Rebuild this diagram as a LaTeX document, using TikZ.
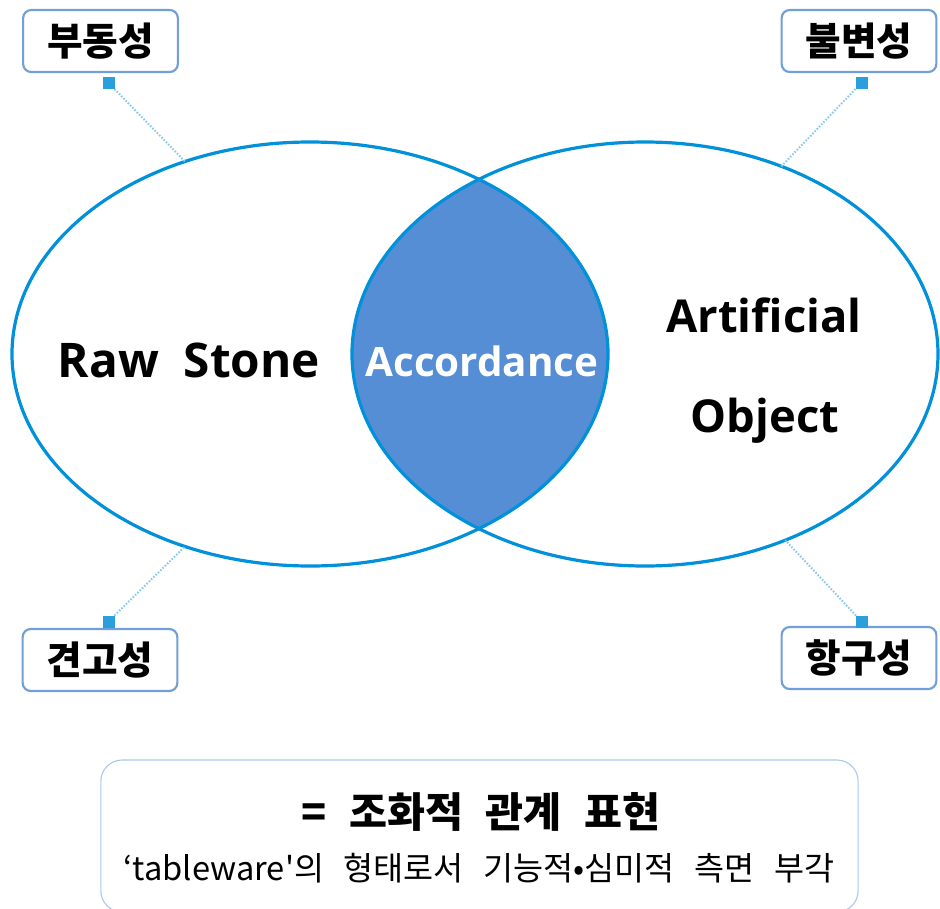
\documentclass[tikz,border=0pt]{standalone}
\usepackage{fontspec}
\newfontfamily\lat{Open Sans}
\newfontfamily\kr{Noto Sans CJK KR}
\usetikzlibrary{shapes.geometric}
\definecolor{ringblue}{RGB}{0,145,218}
\definecolor{lensblue}{RGB}{85,142,213}
\definecolor{tagline}{RGB}{114,159,215}
\definecolor{markblue}{RGB}{41,160,221}
\definecolor{dotblue}{RGB}{140,200,235}
\definecolor{noteline}{RGB}{170,198,235}
\tikzset{
  ring/.style={ellipse, draw=ringblue, line width=2.4pt, inner sep=0pt, outer sep=0pt},
  tagbox/.style={draw=tagline, line width=1.6pt, rounded corners=6pt, fill=white,
    minimum width=116pt, minimum height=46.5pt, inner sep=0pt,
    font=\kr\bfseries\fontsize{29pt}{29pt}\selectfont},
  marker/.style={fill=markblue, minimum size=9pt, inner sep=0pt, outer sep=0pt},
  dotlink/.style={draw=dotblue, line width=1.5pt, dash pattern=on 1.2pt off 1.2pt},
  bigtxt/.style={anchor=base, inner sep=0pt, font=\lat\bfseries\fontsize{34pt}{34pt}\selectfont},
}
\begin{document}
\begin{tikzpicture}[x=0.75pt,y=-0.75pt]
\useasboundingbox (0,0) rectangle (940,908);
% lens fill
\begin{scope}
  \clip (310,354) ellipse [x radius=298, y radius=212];
  \fill[lensblue] (645,354) ellipse [x radius=293, y radius=212];
\end{scope}
% ellipses
\node[ring, minimum width=447pt, minimum height=318pt] (L) at (310,354) {};
\node[ring, minimum width=439.5pt, minimum height=318pt] (R) at (645,354) {};
% texts in circles
\node[bigtxt, font=\lat\bfseries\fontsize{35.8pt}{35.8pt}\selectfont] (raw) at (189,377) {Raw\ \ Stone};
\node[bigtxt, text=white, font=\lat\bfseries\fontsize{30.3pt}{30.3pt}\selectfont] (acc) at (482,376) {Accordance};
\node[bigtxt] (art) at (764,332) {Artificial};
\node[bigtxt] (obj) at (765,432) {Object};
% tags
\node[tagbox] (t1) at (100.5,41) {부동성};
\node[tagbox] (t2) at (859,41) {불변성};
\node[tagbox] (t3) at (100,660) {견고성};
\node[tagbox] (t4) at (859,658) {항구성};
% markers
\node[marker] (m1) at (108.5,83) {};
\node[marker] (m2) at (861.5,83) {};
\node[marker] (m3) at (108.5,621.5) {};
\node[marker] (m4) at (862,621.5) {};
% dotted links
\draw[dotlink] (m1.south east) -- (L.123);
\draw[dotlink] (m3.north east) -- (L.237);
\draw[dotlink] (m2.south west) -- (R.54);
\draw[dotlink] (m4.north west) -- (R.307);
% note box
\node[draw=noteline, line width=0.8pt, rounded corners=16pt, minimum width=568pt, minimum height=114pt, inner sep=0pt] (note) at (479.5,836) {};
\node[inner sep=0pt, font=\kr\bfseries\fontsize{31pt}{31pt}\selectfont] (title) at (481,812) {=\hspace{0.55em}조화적\hspace{0.55em}관계\hspace{0.55em}표현};
\node[inner sep=0pt, font=\kr\fontsize{24.5pt}{24.5pt}\selectfont] (sub) at (479,868) {‘tableware'의\hspace{0.6em}형태로서\hspace{0.6em}기능적•심미적\hspace{0.6em}측면\hspace{0.6em}부각};
\end{tikzpicture}
\end{document}
